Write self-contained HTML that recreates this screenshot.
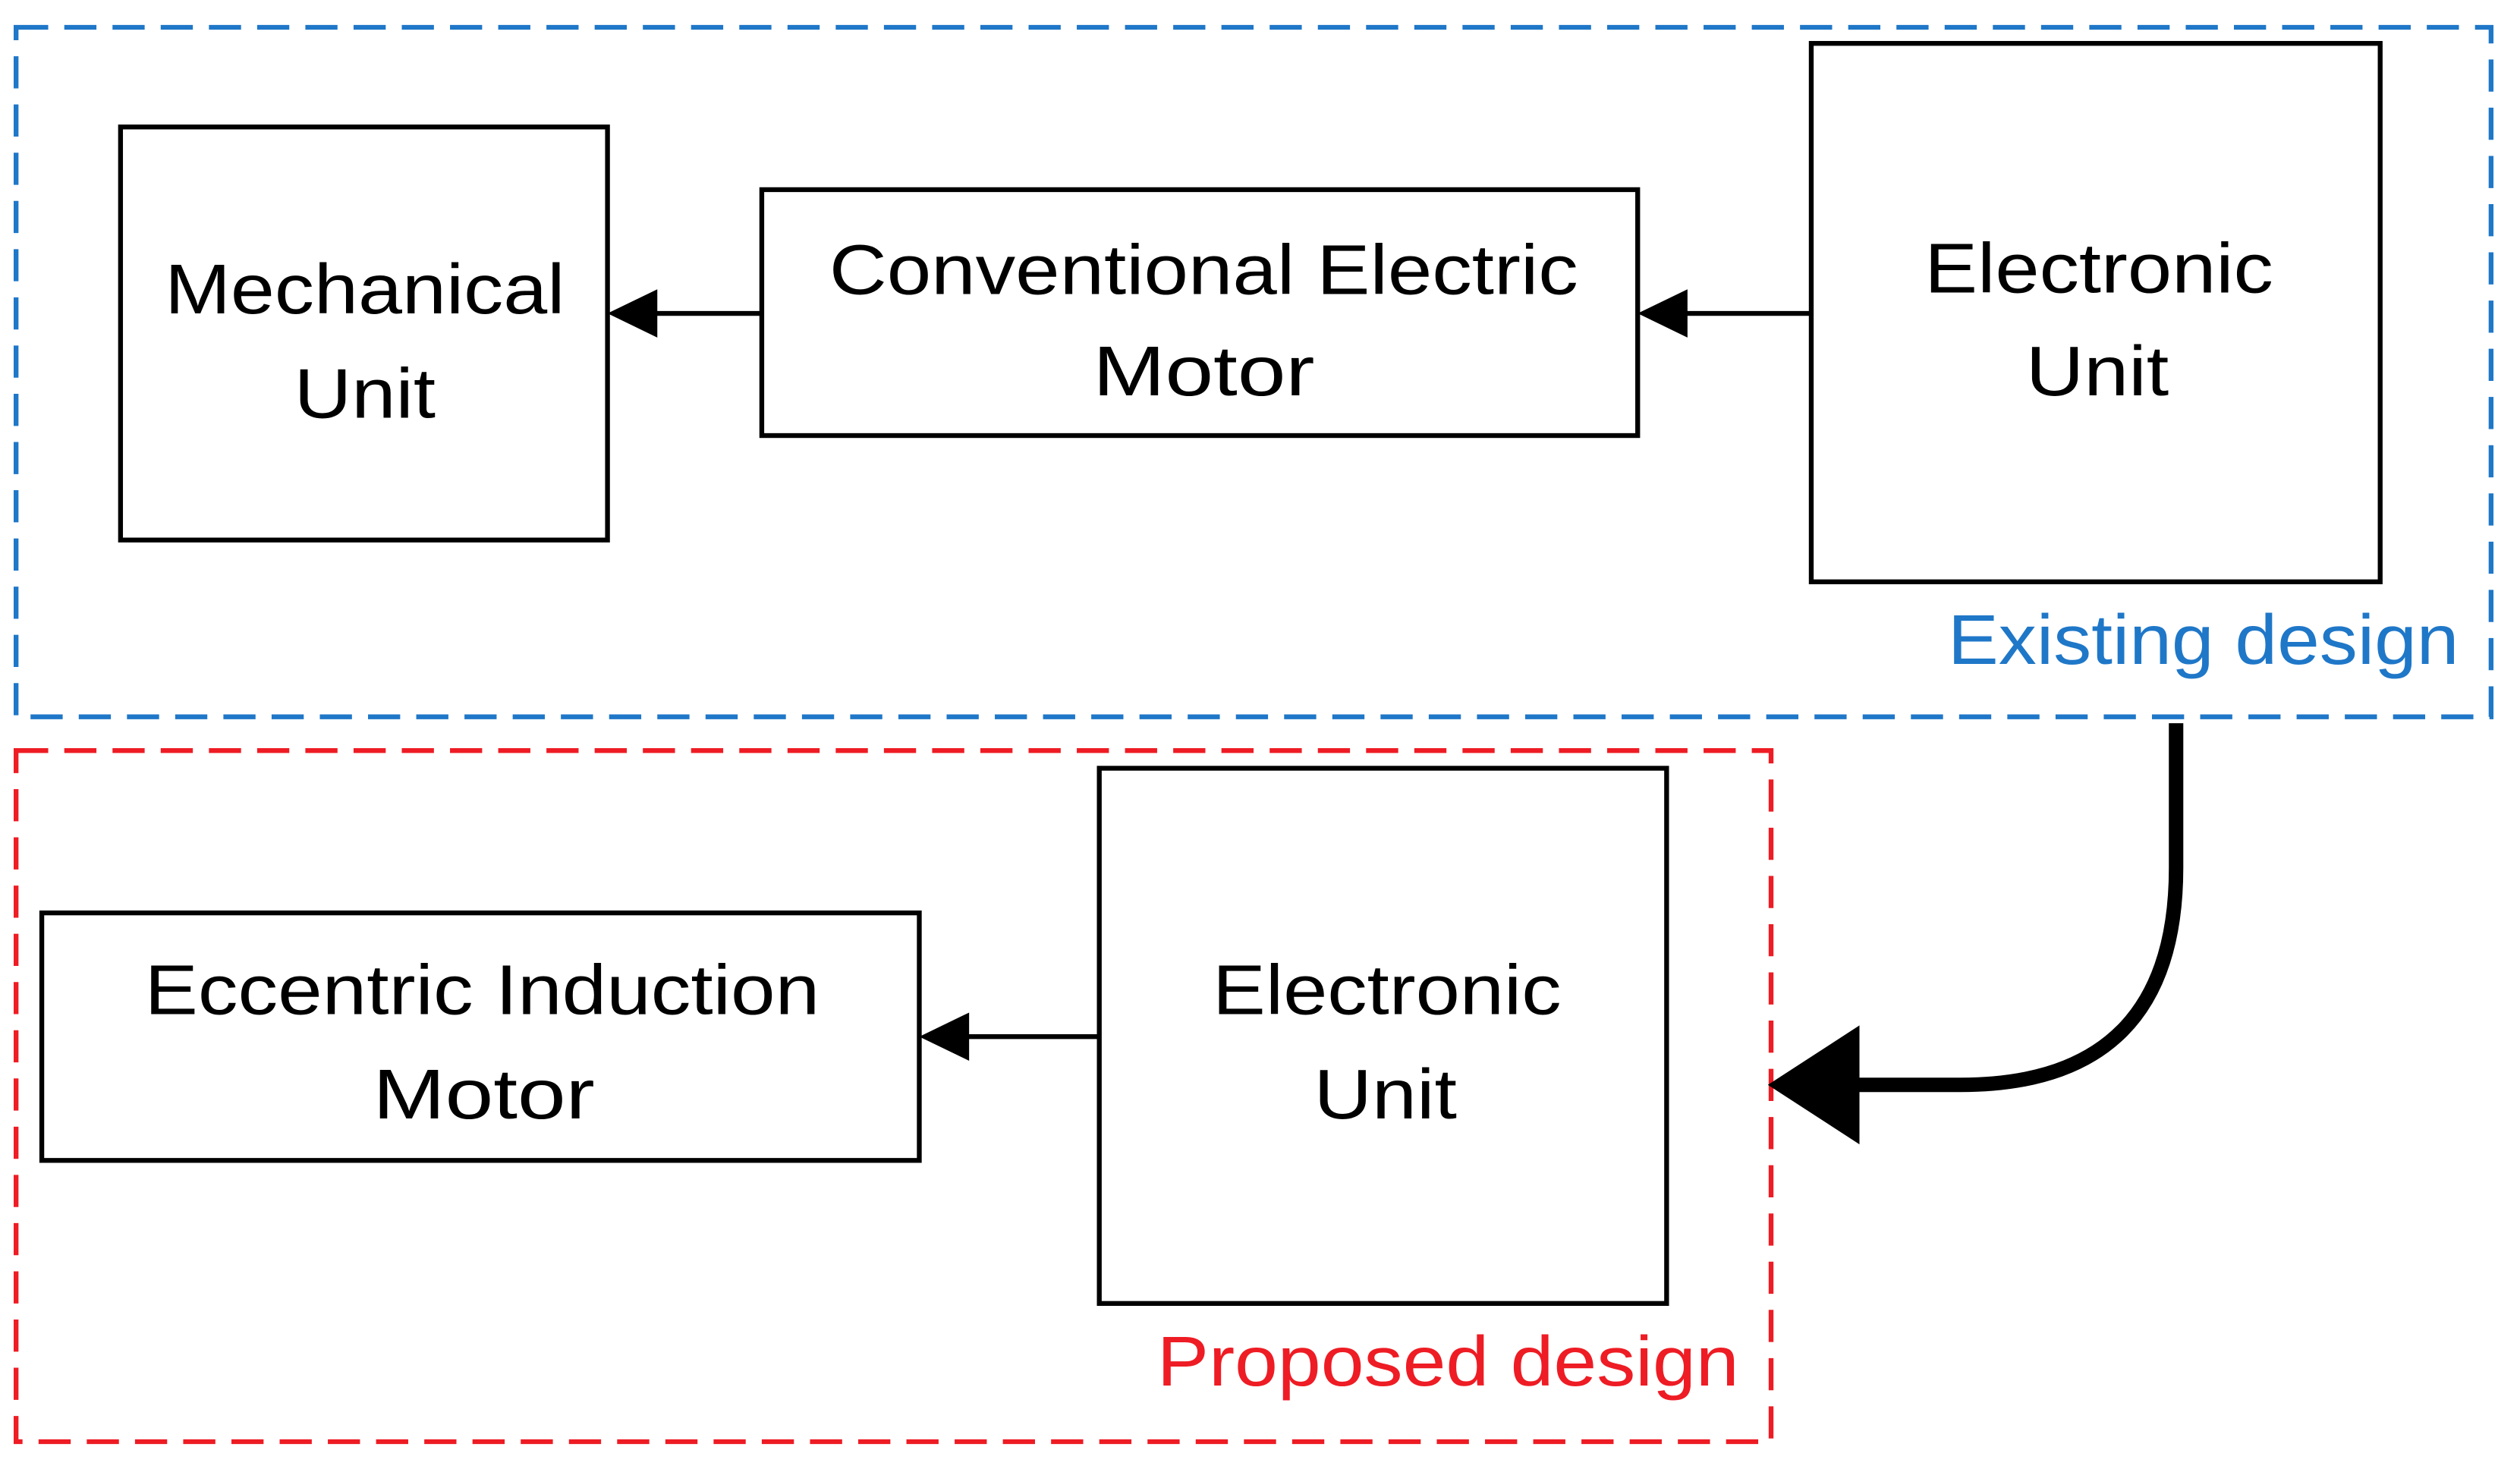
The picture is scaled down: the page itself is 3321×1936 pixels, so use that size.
<!DOCTYPE html>
<html><head><style>html,body{margin:0;padding:0;background:#fff}svg{display:block}</style></head>
<body>
<svg width="3321" height="1936" viewBox="0 0 1568 914" preserveAspectRatio="none" xmlns="http://www.w3.org/2000/svg" font-family="Liberation Sans, sans-serif" font-size="44">
<rect width="1568" height="914" fill="#fff"/>
<rect x="10" y="17" width="1540" height="429" fill="none" stroke="#1f77c8" stroke-width="3" stroke-dasharray="20 10"/>
<rect x="10" y="467" width="1092" height="430" fill="none" stroke="#ee1c24" stroke-width="3" stroke-dasharray="20 10"/>
<g fill="none" stroke="#000" stroke-width="3">
<rect x="75" y="79" width="303" height="257"/>
<rect x="474" y="118" width="545" height="153"/>
<rect x="1127" y="27" width="354" height="335"/>
<rect x="26" y="568" width="546" height="154"/>
<rect x="684" y="478" width="353" height="333"/>
<line x1="1127" y1="195" x2="1045" y2="195"/>
<line x1="474" y1="195" x2="404" y2="195"/>
<line x1="684" y1="645" x2="598" y2="645"/>
</g>
<polygon points="1019,195 1050,180 1050,210" fill="#000"/>
<polygon points="378,195 409,180 409,210" fill="#000"/>
<polygon points="572,645 603,630 603,660" fill="#000"/>
<path d="M1354,450 L1354,540 Q1354,675 1220,675 L1150,675" fill="none" stroke="#000" stroke-width="9"/>
<polygon points="1100,675 1157,638 1157,712" fill="#000"/>
<g text-anchor="middle" fill="#000">
<text x="227" y="195" textLength="249" lengthAdjust="spacingAndGlyphs">Mechanical</text>
<text x="227" y="260" textLength="88" lengthAdjust="spacingAndGlyphs">Unit</text>
<text x="749" y="183" textLength="466" lengthAdjust="spacingAndGlyphs">Conventional Electric</text>
<text x="749" y="246" textLength="138" lengthAdjust="spacingAndGlyphs">Motor</text>
<text x="1306" y="182" textLength="217" lengthAdjust="spacingAndGlyphs">Electronic</text>
<text x="1305" y="246" textLength="89" lengthAdjust="spacingAndGlyphs">Unit</text>
<text x="300" y="631" textLength="420" lengthAdjust="spacingAndGlyphs">Eccentric Induction</text>
<text x="301" y="696" textLength="138" lengthAdjust="spacingAndGlyphs">Motor</text>
<text x="863" y="631" textLength="217" lengthAdjust="spacingAndGlyphs">Electronic</text>
<text x="862" y="696" textLength="89" lengthAdjust="spacingAndGlyphs">Unit</text>
</g>
<text x="1212" y="413" fill="#1f77c8" textLength="318" lengthAdjust="spacingAndGlyphs">Existing design</text>
<text x="720" y="862" fill="#ee1c24" textLength="362" lengthAdjust="spacingAndGlyphs">Proposed design</text>
</svg>
</body></html>
